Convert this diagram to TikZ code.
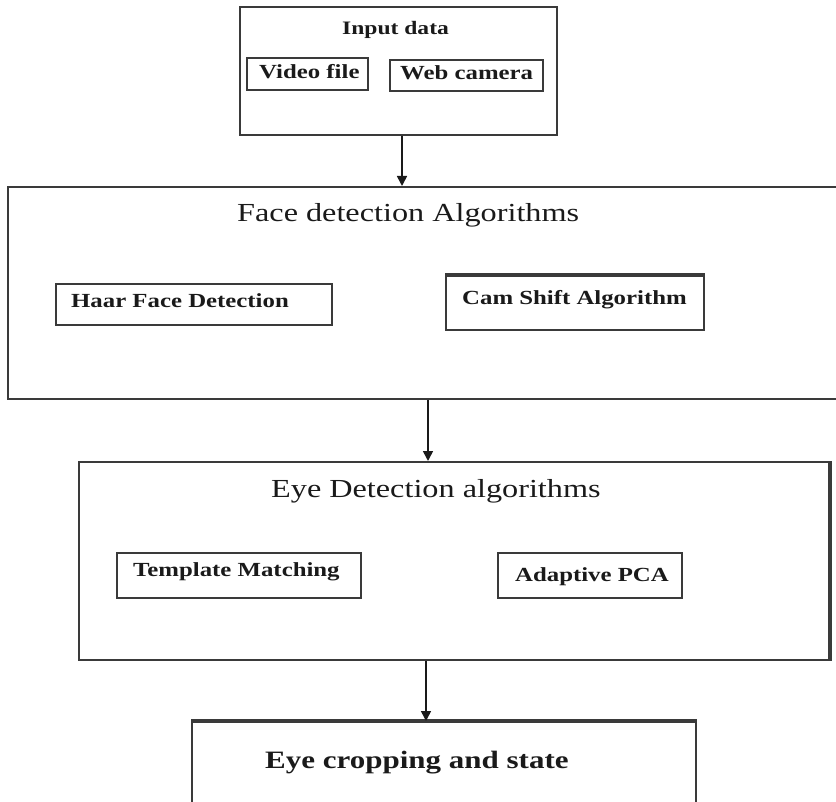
\documentclass[tikz,border=0pt]{standalone}
\usepackage{fontspec}
\usetikzlibrary{arrows.meta,positioning,calc}
\newfontfamily\figfont[FakeStretch=1.24]{Liberation Serif}
\definecolor{ink}{HTML}{1A1A1A}
\definecolor{rule}{HTML}{3A3A3A}
\tikzset{
  frame/.style={draw=rule,line width=2pt,inner sep=0pt},
  subbox/.style={draw=rule,line width=2pt,inner sep=0pt},
  heavyedge/.style={draw=rule,line width=3.5pt},
  boxtitle/.style={anchor=base west,inner sep=0pt,text=ink,
                   font=\figfont\fontsize{26}{30}\selectfont},
  boxlabel/.style={anchor=base west,inner sep=0pt,text=ink,
                   font=\figfont\bfseries\fontsize{20}{24}\selectfont},
  flowarr/.style={-{Triangle[length=10pt,width=10pt]},line width=1.6pt,draw=ink}
}

\begin{document}
\begin{tikzpicture}[x=1pt,y=-1pt]
  \useasboundingbox (0,0) rectangle (836,802);
  \fill[white] (0,0) rectangle (836,802);
  \clip (0,0) rectangle (836,802);

  % input data
  \node[frame,minimum width=317pt,minimum height=128pt] (input) at (398.5,71) {};
  \node[boxlabel,font=\figfont\bfseries\fontsize{19}{23}\selectfont] (inputtitle) at (342,35) {Input data};
  \node[subbox,minimum width=121pt,minimum height=32pt] (video) at (307.5,74) {};
  \node[boxlabel] (videotext) at (259,79) {Video file};
  \node[subbox,minimum width=153pt,minimum height=31pt] (webcam) at (466.5,75.5) {};
  \node[boxlabel] (webcamtext) at (400,80) {Web camera};

  % face detection
  \node[frame,minimum width=837pt,minimum height=212pt] (face) at (426.5,293) {};
  \node[boxtitle] (facetitle) at (237,222) {Face detection Algorithms};
  \node[subbox,minimum width=276pt,minimum height=41pt] (haar) at (194,304.5) {};
  \node[boxlabel] (haartext) at (71,308) {Haar Face Detection};
  \node[subbox,minimum width=258pt,minimum height=54pt] (cam) at (575,303) {};
  \draw[heavyedge] (cam.north west) -- (cam.north east);
  \node[boxlabel] (camtext) at (462,305) {Cam Shift Algorithm};

  % eye detection
  \node[frame,minimum width=750pt,minimum height=198pt] (eye) at (454,561) {};
  \draw[heavyedge] (eye.north east) -- (eye.south east);
  \node[boxtitle] (eyetitle) at (271,497) {Eye Detection algorithms};
  \node[subbox,minimum width=244pt,minimum height=45pt] (template) at (239,575.5) {};
  \node[boxlabel] (templatetext) at (133,576) {Template Matching};
  \node[subbox,minimum width=184pt,minimum height=45pt] (pca) at (590,575.5) {};
  \node[boxlabel] (pcatext) at (515,581) {Adaptive PCA};

  % eye cropping
  \node[frame,minimum width=504pt,minimum height=108pt] (crop) at (444,776) {};
  \draw[heavyedge] (crop.north west) -- (crop.north east);
  \node[boxlabel,font=\figfont\bfseries\fontsize{25}{29}\selectfont] (croptext) at (265,768) {Eye cropping and state};

  % arrows
  \coordinate (a1) at (402,0);
  \coordinate (a2) at (428,0);
  \coordinate (a3) at (426,0);
  \draw[flowarr] (a1 |- input.south) -- (a1 |- face.north);
  \draw[flowarr] (a2 |- face.south) -- (a2 |- eye.north);
  \draw[flowarr] (a3 |- eye.south) -- (a3 |- crop.north);
\end{tikzpicture}
\end{document}
